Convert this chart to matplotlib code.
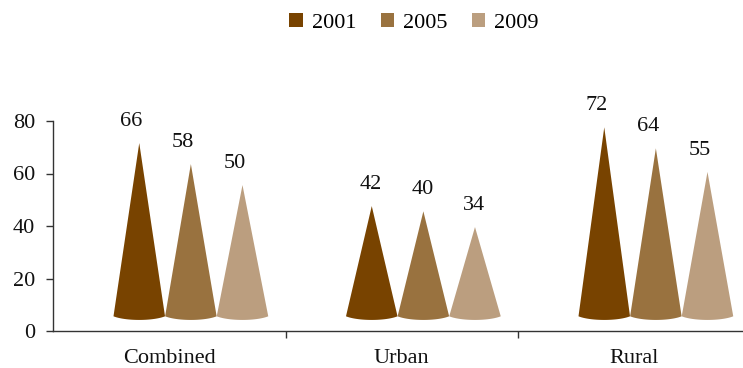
import numpy as np
import matplotlib
matplotlib.use("Agg")
import matplotlib.pyplot as plt
from matplotlib.patches import Patch
from matplotlib.transforms import offset_copy

# Data
categories = ["Combined", "Urban", "Rural"]
years = ["2001", "2005", "2009"]
values_2001 = [66, 42, 72]
values_2005 = [58, 40, 64]
values_2009 = [50, 34, 55]
y_ticks = [0, 20, 40, 60, 80]

series = [values_2001, values_2005, values_2009]
colors = ["#784300", "#99723f", "#bb9e7f"]

plt.rcParams["font.family"] = ["Liberation Serif", "DejaVu Serif"]
FS = 16
TXT = "#111111"

fig = plt.figure(figsize=(7.43, 3.68), dpi=100)
ax = fig.add_axes([53 / 743, 37 / 368, 690 / 743, 210 / 368])

# cone geometry (data units); a small depth shift mimics the 3D floor
spacing = 0.222
shift_x = 0.093
base_y = 5.6
half_w = 0.13
ell_h = 2.9
cut = 0.55
label_rise = 13.8
label_dx_px = [-8, -1, -8]

t = np.linspace(np.pi + cut, 2 * np.pi - cut, 60)
for j, (vals, col) in enumerate(zip(series, colors)):
    for i, v in enumerate(vals):
        cx = i + (j - 1) * spacing + shift_x
        arc_x = cx + half_w * np.cos(t)
        arc_y = base_y + ell_h * (np.sin(t) + np.sin(cut))
        xs = np.concatenate([[cx], arc_x])
        ys = np.concatenate([[base_y + v], arc_y])
        ax.fill(xs, ys, color=col, lw=0, zorder=3 + j)
        tr = offset_copy(ax.transData, fig=fig, x=label_dx_px[i] * 0.72, y=0, units="points")
        ax.text(cx, v + label_rise, f"{v}", transform=tr, ha="center", va="center",
                fontsize=FS, color=TXT)

ax.set_xlim(-0.5, -0.5 + 690 / 232.5)
ax.set_ylim(0, 80)
ax.set_yticks(y_ticks)
ax.set_xticks(range(len(categories)))
ax.set_xticklabels(categories)
ax.set_xticks([0.5, 1.5], minor=True)

for s in ["top", "right"]:
    ax.spines[s].set_visible(False)
for s in ["left", "bottom"]:
    ax.spines[s].set_color("#333333")
    ax.spines[s].set_linewidth(1.0)

ax.tick_params(axis="y", direction="out", length=5, width=1, color="#333333",
               pad=8, labelsize=FS, labelcolor=TXT)
ax.tick_params(axis="x", which="major", length=0, pad=13, labelsize=FS,
               labelcolor=TXT)
ax.tick_params(axis="x", which="minor", direction="out", length=5, width=1,
               color="#333333")

handles = [Patch(facecolor=c, edgecolor="none", label=y) for c, y in zip(colors, years)]
fig.legend(handles=handles, loc="center", bbox_to_anchor=(414 / 743, 1 - 23 / 368),
           ncol=3, frameon=False, fontsize=FS, handlelength=0.6, handleheight=0.6,
           handletextpad=0.4, columnspacing=1.1)

fig.savefig("out.png", dpi=100)
